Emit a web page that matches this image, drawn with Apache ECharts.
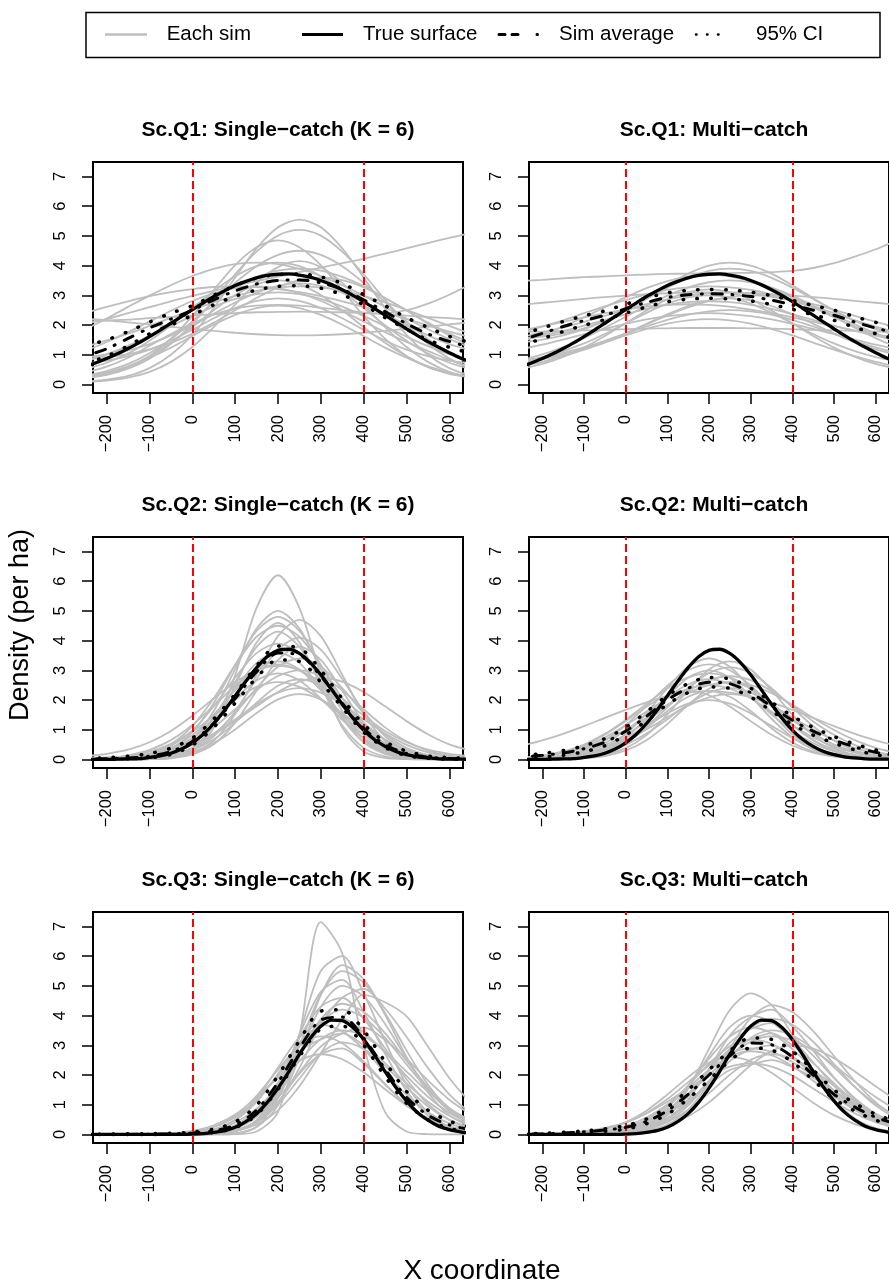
<!DOCTYPE html>
<html>
<head>
<meta charset="utf-8">
<script src="https://cdn.jsdelivr.net/npm/echarts@6.0.0/dist/echarts.min.js"></script>
<style>
  html, body { margin: 0; padding: 0; background: #fff; overflow: hidden; }
  #chart { width: 889px; height: 1287px; }
</style>
</head>
<body>
<div id="chart"></div>
<script>
// Sample positions (X coordinate) for simulated curves, averages and CI bounds
const xs = [-250, -200, -150, -100, -50, 0, 50, 100, 150, 200, 250, 300, 350, 400, 450, 500, 550, 600, 650];
// Finer sample positions for the true surfaces
const xsFine = [-250, -225, -200, -175, -150, -125, -100, -75, -50, -25, 0, 25, 50, 75, 100, 125, 150, 175, 200,
  225, 250, 275, 300, 325, 350, 375, 400, 425, 450, 475, 500, 525, 550, 575, 600, 625, 650];

const xTicks = [-200, -100, 0, 100, 200, 300, 400, 500, 600];
const yTicks = [0, 1, 2, 3, 4, 5, 6, 7];
const refLines = [0, 400];

const panelTitles = [
  'Sc.Q1: Single\u2212catch (K = 6)', 'Sc.Q1: Multi\u2212catch',
  'Sc.Q2: Single\u2212catch (K = 6)', 'Sc.Q2: Multi\u2212catch',
  'Sc.Q3: Single\u2212catch (K = 6)', 'Sc.Q3: Multi\u2212catch'
];
const legendLabels = ['Each sim', 'True surface', 'Sim average', '95% CI'];

// True density surfaces (on xsFine)
const q1True = [0.6, 0.73, 0.87, 1.03, 1.21, 1.4, 1.61, 1.83, 2.06, 2.29, 2.52, 2.74, 2.96, 3.15, 3.33, 3.47, 3.59, 3.67, 3.71,
  3.72, 3.68, 3.61, 3.5, 3.36, 3.19, 3.0, 2.79, 2.56, 2.33, 2.1, 1.87, 1.65, 1.44, 1.25, 1.07, 0.9, 0.75];
const q2True = [0, 0, 0, 0.01, 0.02, 0.03, 0.07, 0.12, 0.21, 0.35, 0.56, 0.84, 1.21, 1.65, 2.14, 2.63, 3.09, 3.46, 3.67,
  3.71, 3.57, 3.27, 2.85, 2.36, 1.86, 1.39, 0.99, 0.67, 0.44, 0.27, 0.16, 0.09, 0.05, 0.02, 0.01, 0.01, 0];
const q3True = [0, 0, 0, 0, 0, 0, 0, 0, 0, 0, 0.01, 0.03, 0.07, 0.13, 0.24, 0.43, 0.7, 1.08, 1.56,
  2.11, 2.7, 3.23, 3.64, 3.85, 3.83, 3.6, 3.2, 2.68, 2.12, 1.59, 1.13, 0.75, 0.48, 0.28, 0.16, 0.09, 0.04];

// Q1 single-catch
const q1SingleSims = [
  [0.09, 0.16, 0.29, 0.55, 1.0, 1.67, 2.57, 3.6, 4.58, 5.29, 5.55, 5.29, 4.58, 3.6, 2.57, 1.67, 1.0, 0.55, 0.29],
  [0.21, 0.32, 0.53, 0.87, 1.37, 2.04, 2.85, 3.71, 4.47, 5.01, 5.2, 5.01, 4.47, 3.71, 2.85, 2.04, 1.37, 0.87, 0.53],
  [0.24, 0.36, 0.58, 0.96, 1.54, 2.3, 3.18, 4.02, 4.62, 4.85, 4.62, 4.02, 3.18, 2.3, 1.54, 0.96, 0.58, 0.36, 0.24],
  [0.29, 0.45, 0.69, 1.05, 1.53, 2.12, 2.77, 3.42, 3.98, 4.36, 4.5, 4.36, 3.98, 3.42, 2.77, 2.12, 1.53, 1.05, 0.69],
  [1.86, 2.22, 2.61, 2.99, 3.34, 3.65, 3.89, 4.05, 4.1, 4.05, 3.89, 3.65, 3.34, 2.99, 2.61, 2.22, 1.86, 1.53, 1.25],
  [0.51, 0.73, 1.04, 1.47, 1.99, 2.57, 3.14, 3.64, 3.98, 4.1, 3.98, 3.64, 3.14, 2.57, 1.99, 1.47, 1.04, 0.73, 0.51],
  [0.79, 1.01, 1.3, 1.65, 2.05, 2.49, 2.91, 3.31, 3.62, 3.83, 3.9, 3.83, 3.62, 3.31, 2.91, 2.49, 2.05, 1.65, 1.3],
  [0.25, 0.39, 0.61, 0.95, 1.4, 1.93, 2.5, 3.01, 3.37, 3.5, 3.37, 3.01, 2.5, 1.93, 1.4, 0.95, 0.61, 0.39, 0.25],
  [1.27, 1.48, 1.71, 1.97, 2.24, 2.51, 2.76, 2.98, 3.15, 3.26, 3.3, 3.26, 3.15, 2.98, 2.76, 2.51, 2.24, 1.97, 1.71],
  [0.77, 1.01, 1.29, 1.61, 1.96, 2.31, 2.62, 2.88, 3.04, 3.1, 3.04, 2.88, 2.62, 2.31, 1.96, 1.61, 1.29, 1.01, 0.77],
  [0.91, 1.01, 1.15, 1.36, 1.65, 1.99, 2.38, 2.76, 3.09, 3.32, 3.4, 3.32, 3.09, 2.76, 2.38, 1.99, 1.65, 1.36, 1.15],
  [2.21, 2.16, 2.09, 2.02, 1.94, 1.87, 1.8, 1.74, 1.69, 1.66, 1.65, 1.66, 1.69, 1.74, 1.8, 1.87, 1.94, 2.02, 2.09],
  [2.11, 2.15, 2.18, 2.23, 2.27, 2.32, 2.36, 2.4, 2.43, 2.44, 2.45, 2.44, 2.43, 2.4, 2.36, 2.32, 2.27, 2.23, 2.18],
  [2.05, 2.2, 2.4, 2.6, 2.8, 2.98, 3.15, 3.32, 3.48, 3.63, 3.78, 3.93, 4.08, 4.23, 4.4, 4.58, 4.76, 4.93, 5.1],
  [0.4, 0.6, 0.9, 1.3, 1.7, 2.05, 2.35, 2.55, 2.65, 2.68, 2.65, 2.58, 2.5, 2.42, 2.4, 2.5, 2.72, 3.02, 3.38],
  [0.86, 0.92, 1.02, 1.18, 1.4, 1.71, 2.08, 2.5, 2.91, 3.27, 3.51, 3.6, 3.51, 3.27, 2.91, 2.5, 2.08, 1.71, 1.4],
  [0.26, 0.4, 0.61, 0.9, 1.24, 1.63, 2.01, 2.34, 2.57, 2.65, 2.57, 2.34, 2.01, 1.63, 1.24, 0.9, 0.61, 0.4, 0.26],
  [0.08, 0.13, 0.23, 0.42, 0.76, 1.26, 1.93, 2.69, 3.42, 3.95, 4.15, 3.95, 3.42, 2.69, 1.93, 1.26, 0.76, 0.42, 0.23],
  [1.13, 1.43, 1.76, 2.12, 2.48, 2.81, 3.07, 3.24, 3.3, 3.24, 3.07, 2.81, 2.48, 2.12, 1.76, 1.43, 1.13, 0.83, 0.59],
  [0.7, 0.8, 0.95, 1.17, 1.48, 1.84, 2.23, 2.57, 2.81, 2.9, 2.81, 2.57, 2.23, 1.84, 1.48, 1.17, 0.95, 0.8, 0.7],
  [2.41, 2.61, 2.8, 2.97, 3.11, 3.21, 3.28, 3.3, 3.28, 3.21, 3.11, 2.97, 2.8, 2.61, 2.41, 2.2, 1.99, 1.78, 1.59]
];
const q1SingleAvg = [0.95, 1.2, 1.55, 1.9, 2.2, 2.5, 2.85, 3.15, 3.38, 3.5, 3.52, 3.42, 3.2, 2.85, 2.45, 2.05, 1.7, 1.45, 1.25];
const q1SingleHi = [1.3, 1.5, 1.78, 2.1, 2.4, 2.65, 3.0, 3.33, 3.58, 3.7, 3.72, 3.62, 3.4, 3.02, 2.65, 2.25, 1.92, 1.62, 1.4];
const q1SingleLo = [0.7, 0.95, 1.3, 1.7, 2.0, 2.33, 2.68, 2.97, 3.18, 3.3, 3.32, 3.24, 3.02, 2.68, 2.25, 1.86, 1.5, 1.25, 1.05];

// Q1 multi-catch
const q1MultiSims = [
  [3.48, 3.52, 3.57, 3.61, 3.64, 3.67, 3.7, 3.72, 3.73, 3.74, 3.75, 3.76, 3.78, 3.82, 3.92, 4.08, 4.3, 4.55, 4.85],
  [1.55, 1.61, 1.72, 1.89, 2.15, 2.49, 2.9, 3.34, 3.73, 4.0, 4.1, 4.0, 3.73, 3.34, 2.9, 2.49, 2.15, 1.89, 1.72],
  [1.41, 1.51, 1.65, 1.86, 2.15, 2.49, 2.88, 3.26, 3.59, 3.82, 3.9, 3.82, 3.59, 3.26, 2.88, 2.49, 2.15, 1.86, 1.65],
  [1.45, 1.68, 1.95, 2.26, 2.6, 2.93, 3.24, 3.48, 3.64, 3.7, 3.64, 3.48, 3.24, 2.93, 2.6, 2.26, 1.95, 1.68, 1.45],
  [0.82, 1.01, 1.26, 1.56, 1.91, 2.28, 2.65, 2.99, 3.26, 3.44, 3.5, 3.44, 3.26, 2.99, 2.65, 2.28, 1.91, 1.56, 1.26],
  [1.75, 1.95, 2.16, 2.4, 2.63, 2.84, 3.03, 3.18, 3.27, 3.3, 3.27, 3.18, 3.03, 2.84, 2.63, 2.4, 2.16, 1.95, 1.75],
  [1.6, 1.75, 1.92, 2.11, 2.31, 2.51, 2.7, 2.86, 2.99, 3.07, 3.1, 3.07, 2.99, 2.86, 2.7, 2.51, 2.31, 2.11, 1.92],
  [0.79, 0.92, 1.12, 1.38, 1.7, 2.06, 2.41, 2.72, 2.93, 3.0, 2.93, 2.72, 2.41, 2.06, 1.7, 1.38, 1.12, 0.92, 0.79],
  [0.8, 0.88, 1.0, 1.18, 1.42, 1.71, 2.04, 2.36, 2.64, 2.83, 2.9, 2.83, 2.64, 2.36, 2.04, 1.71, 1.42, 1.18, 1.0],
  [1.52, 1.64, 1.8, 1.98, 2.17, 2.36, 2.54, 2.68, 2.77, 2.8, 2.77, 2.68, 2.54, 2.36, 2.17, 1.98, 1.8, 1.64, 1.52],
  [1.77, 1.78, 1.8, 1.82, 1.84, 1.86, 1.88, 1.89, 1.9, 1.9, 1.9, 1.89, 1.88, 1.86, 1.84, 1.82, 1.8, 1.78, 1.77],
  [0.6, 0.76, 0.95, 1.17, 1.41, 1.65, 1.87, 2.05, 2.16, 2.2, 2.16, 2.05, 1.87, 1.65, 1.41, 1.17, 0.95, 0.76, 0.6],
  [0.77, 0.9, 1.06, 1.25, 1.47, 1.71, 1.95, 2.17, 2.35, 2.46, 2.5, 2.46, 2.35, 2.17, 1.95, 1.71, 1.47, 1.25, 1.06],
  [1.82, 1.96, 2.11, 2.26, 2.4, 2.52, 2.62, 2.68, 2.7, 2.68, 2.62, 2.52, 2.4, 2.26, 2.11, 1.96, 1.82, 1.69, 1.57],
  [2.68, 2.75, 2.81, 2.88, 2.94, 2.99, 3.04, 3.07, 3.09, 3.1, 3.09, 3.07, 3.04, 2.99, 2.94, 2.88, 2.81, 2.75, 2.68],
  [0.72, 0.84, 1.0, 1.2, 1.44, 1.72, 2.02, 2.32, 2.59, 2.81, 2.95, 3.0, 2.95, 2.81, 2.59, 2.32, 2.02, 1.72, 1.44],
  [0.53, 0.69, 0.93, 1.24, 1.63, 2.06, 2.49, 2.86, 3.11, 3.2, 3.11, 2.86, 2.49, 2.06, 1.63, 1.24, 0.93, 0.69, 0.53],
  [1.19, 1.34, 1.51, 1.69, 1.87, 2.04, 2.19, 2.3, 2.37, 2.4, 2.37, 2.3, 2.19, 2.04, 1.87, 1.69, 1.51, 1.34, 1.19]
];
const q1MultiAvg = [1.5, 1.72, 1.95, 2.15, 2.33, 2.55, 2.76, 2.93, 3.02, 3.05, 3.03, 2.96, 2.84, 2.68, 2.5, 2.33, 2.1, 1.9, 1.72];
const q1MultiHi = [1.7, 1.9, 2.12, 2.31, 2.48, 2.7, 2.91, 3.08, 3.17, 3.2, 3.18, 3.11, 2.99, 2.83, 2.66, 2.5, 2.28, 2.09, 1.92];
const q1MultiLo = [1.32, 1.54, 1.78, 1.99, 2.18, 2.4, 2.61, 2.78, 2.87, 2.9, 2.88, 2.81, 2.69, 2.53, 2.34, 2.16, 1.92, 1.71, 1.52];

// Q2 single-catch
const q2SingleSims = [
  [0, 0, 0, 0.01, 0.05, 0.27, 1.07, 2.84, 5.1, 6.2, 5.1, 2.84, 1.07, 0.27, 0.05, 0.01, 0, 0, 0],
  [0, 0, 0.01, 0.06, 0.22, 0.68, 1.63, 3.04, 4.41, 5.0, 4.41, 3.04, 1.63, 0.68, 0.22, 0.06, 0.01, 0, 0],
  [0, 0.01, 0.03, 0.12, 0.36, 0.92, 1.9, 3.18, 4.33, 4.8, 4.33, 3.18, 1.9, 0.92, 0.36, 0.12, 0.03, 0.01, 0],
  [0, 0, 0, 0.01, 0.05, 0.21, 0.63, 1.53, 2.85, 4.15, 4.7, 4.15, 2.85, 1.53, 0.63, 0.21, 0.05, 0.01, 0],
  [0, 0.02, 0.06, 0.2, 0.51, 1.12, 2.06, 3.18, 4.13, 4.5, 4.13, 3.18, 2.06, 1.12, 0.51, 0.2, 0.06, 0.02, 0],
  [0, 0, 0.01, 0.05, 0.19, 0.58, 1.4, 2.61, 3.79, 4.3, 3.79, 2.61, 1.4, 0.58, 0.19, 0.05, 0.01, 0, 0],
  [0, 0, 0.01, 0.03, 0.1, 0.31, 0.78, 1.62, 2.71, 3.7, 4.1, 3.7, 2.71, 1.62, 0.78, 0.31, 0.1, 0.03, 0.01],
  [0, 0.02, 0.06, 0.17, 0.45, 0.97, 1.79, 2.76, 3.58, 3.9, 3.58, 2.76, 1.79, 0.97, 0.45, 0.17, 0.06, 0.02, 0],
  [0, 0.01, 0.02, 0.09, 0.27, 0.69, 1.42, 2.38, 3.25, 3.6, 3.25, 2.38, 1.42, 0.69, 0.27, 0.09, 0.02, 0.01, 0],
  [0, 0, 0.01, 0.05, 0.15, 0.39, 0.85, 1.56, 2.4, 3.12, 3.4, 3.12, 2.4, 1.56, 0.85, 0.39, 0.15, 0.05, 0.01],
  [0.02, 0.05, 0.14, 0.32, 0.65, 1.16, 1.8, 2.48, 3.0, 3.2, 3.0, 2.48, 1.8, 1.16, 0.65, 0.32, 0.14, 0.05, 0.02],
  [0.01, 0.02, 0.05, 0.13, 0.3, 0.61, 1.08, 1.69, 2.33, 2.81, 3.0, 2.81, 2.33, 1.69, 1.08, 0.61, 0.3, 0.13, 0.05],
  [0, 0.01, 0.04, 0.13, 0.33, 0.72, 1.33, 2.05, 2.66, 2.9, 2.66, 2.05, 1.33, 0.72, 0.33, 0.13, 0.04, 0.01, 0],
  [0, 0, 0.01, 0.04, 0.12, 0.31, 0.67, 1.24, 1.91, 2.48, 2.7, 2.48, 1.91, 1.24, 0.67, 0.31, 0.12, 0.04, 0.01],
  [0.01, 0.04, 0.11, 0.26, 0.53, 0.94, 1.46, 2.02, 2.44, 2.6, 2.44, 2.02, 1.46, 0.94, 0.53, 0.26, 0.11, 0.04, 0.01],
  [0, 0.01, 0.04, 0.11, 0.24, 0.49, 0.87, 1.35, 1.86, 2.25, 2.4, 2.25, 1.86, 1.35, 0.87, 0.49, 0.24, 0.11, 0.04],
  [0.06, 0.07, 0.1, 0.17, 0.3, 0.51, 0.85, 1.29, 1.79, 2.27, 2.62, 2.75, 2.62, 2.27, 1.79, 1.29, 0.85, 0.51, 0.3],
  [0.11, 0.19, 0.33, 0.58, 0.96, 1.47, 2.05, 2.6, 3.0, 3.15, 3.0, 2.6, 2.05, 1.47, 0.96, 0.58, 0.33, 0.19, 0.11],
  [0, 0, 0, 0.01, 0.04, 0.17, 0.51, 1.24, 2.31, 3.35, 3.8, 3.35, 2.31, 1.24, 0.51, 0.17, 0.04, 0.01, 0],
  [0, 0, 0, 0.02, 0.1, 0.39, 1.15, 2.48, 3.94, 4.6, 3.94, 2.48, 1.15, 0.39, 0.1, 0.02, 0, 0, 0],
  [0, 0, 0.01, 0.03, 0.1, 0.25, 0.55, 1.01, 1.56, 2.02, 2.2, 2.02, 1.56, 1.01, 0.55, 0.25, 0.1, 0.03, 0.01],
  [0, 0.01, 0.05, 0.15, 0.38, 0.82, 1.51, 2.33, 3.03, 3.3, 3.03, 2.33, 1.51, 0.82, 0.38, 0.15, 0.05, 0.01, 0]
];
const q2SingleAvg = [0.01, 0.02, 0.05, 0.11, 0.27, 0.6, 1.22, 2.05, 2.95, 3.58, 3.52, 2.8, 1.9, 1.05, 0.5, 0.2, 0.08, 0.03, 0.01];
const q2SingleHi = [0.03, 0.06, 0.11, 0.2, 0.38, 0.72, 1.36, 2.2, 3.15, 3.82, 3.75, 3.0, 2.05, 1.18, 0.6, 0.28, 0.12, 0.06, 0.03];
const q2SingleLo = [0, 0.01, 0.02, 0.05, 0.17, 0.48, 1.08, 1.9, 2.75, 3.35, 3.3, 2.6, 1.75, 0.92, 0.4, 0.13, 0.04, 0.01, 0];

// Q2 multi-catch
const q2MultiSims = [
  [0.46, 0.64, 0.86, 1.12, 1.4, 1.67, 1.92, 2.12, 2.25, 2.3, 2.25, 2.12, 1.92, 1.67, 1.4, 1.12, 0.86, 0.64, 0.46],
  [0, 0.01, 0.05, 0.15, 0.39, 0.85, 1.56, 2.4, 3.12, 3.4, 3.12, 2.4, 1.56, 0.85, 0.39, 0.15, 0.05, 0.01, 0],
  [0, 0, 0.01, 0.05, 0.15, 0.38, 0.82, 1.51, 2.33, 3.03, 3.3, 3.03, 2.33, 1.51, 0.82, 0.38, 0.15, 0.05, 0.01],
  [0.02, 0.05, 0.14, 0.32, 0.65, 1.16, 1.8, 2.48, 3.0, 3.2, 3.0, 2.48, 1.8, 1.16, 0.65, 0.32, 0.14, 0.05, 0.02],
  [0.01, 0.02, 0.05, 0.14, 0.31, 0.63, 1.12, 1.75, 2.4, 2.91, 3.1, 2.91, 2.4, 1.75, 1.12, 0.63, 0.31, 0.14, 0.05],
  [0, 0.01, 0.04, 0.13, 0.34, 0.75, 1.37, 2.12, 2.75, 3.0, 2.75, 2.12, 1.37, 0.75, 0.34, 0.13, 0.04, 0.01, 0],
  [0.06, 0.13, 0.27, 0.5, 0.86, 1.33, 1.87, 2.39, 2.76, 2.9, 2.76, 2.39, 1.87, 1.33, 0.86, 0.5, 0.27, 0.13, 0.06],
  [0.02, 0.05, 0.12, 0.26, 0.48, 0.83, 1.28, 1.81, 2.3, 2.67, 2.8, 2.67, 2.3, 1.81, 1.28, 0.83, 0.48, 0.26, 0.12],
  [0.02, 0.05, 0.12, 0.27, 0.55, 0.97, 1.52, 2.09, 2.53, 2.7, 2.53, 2.09, 1.52, 0.97, 0.55, 0.27, 0.12, 0.05, 0.02],
  [0, 0, 0.01, 0.04, 0.11, 0.3, 0.65, 1.19, 1.84, 2.38, 2.6, 2.38, 1.84, 1.19, 0.65, 0.3, 0.11, 0.04, 0.01],
  [0.05, 0.11, 0.23, 0.43, 0.74, 1.15, 1.61, 2.06, 2.38, 2.5, 2.38, 2.06, 1.61, 1.15, 0.74, 0.43, 0.23, 0.11, 0.05],
  [0, 0.01, 0.04, 0.11, 0.24, 0.49, 0.87, 1.35, 1.86, 2.25, 2.4, 2.25, 1.86, 1.35, 0.87, 0.49, 0.24, 0.11, 0.04],
  [0, 0.01, 0.03, 0.1, 0.26, 0.57, 1.05, 1.63, 2.11, 2.3, 2.11, 1.63, 1.05, 0.57, 0.26, 0.1, 0.03, 0.01, 0],
  [0.02, 0.04, 0.1, 0.2, 0.38, 0.65, 1.01, 1.42, 1.81, 2.09, 2.2, 2.09, 1.81, 1.42, 1.01, 0.65, 0.38, 0.2, 0.1],
  [0.01, 0.03, 0.09, 0.2, 0.41, 0.72, 1.13, 1.55, 1.88, 2.0, 1.88, 1.55, 1.13, 0.72, 0.41, 0.2, 0.09, 0.03, 0.01],
  [0.05, 0.11, 0.22, 0.39, 0.65, 0.99, 1.4, 1.84, 2.23, 2.5, 2.6, 2.5, 2.23, 1.84, 1.4, 0.99, 0.65, 0.39, 0.22],
  [0.04, 0.1, 0.23, 0.47, 0.83, 1.29, 1.78, 2.16, 2.3, 2.16, 1.78, 1.29, 0.83, 0.47, 0.23, 0.1, 0.04, 0.01, 0]
];
const q2MultiAvg = [0.08, 0.14, 0.22, 0.36, 0.58, 0.95, 1.45, 2.0, 2.4, 2.6, 2.55, 2.25, 1.78, 1.32, 0.95, 0.66, 0.42, 0.24, 0.13];
const q2MultiHi = [0.12, 0.2, 0.3, 0.46, 0.7, 1.08, 1.6, 2.15, 2.55, 2.76, 2.71, 2.4, 1.93, 1.46, 1.08, 0.77, 0.52, 0.32, 0.19];
const q2MultiLo = [0.04, 0.08, 0.14, 0.26, 0.46, 0.82, 1.3, 1.85, 2.25, 2.44, 2.39, 2.1, 1.63, 1.18, 0.82, 0.55, 0.32, 0.16, 0.07];

// Q3 single-catch
const q3SingleSims = [
  [0, 0, 0, 0, 0, 0, 0, 0.01, 0.1, 0.75, 3.3, 7.15, 6.1, 3.0, 0.75, 0.1, 0.01, 0, 0],
  [0, 0, 0, 0, 0, 0, 0, 0.03, 0.26, 1.22, 3.38, 5.5, 6.0, 4.76, 3.14, 1.69, 0.74, 0.26, 0.08],
  [0, 0, 0, 0, 0, 0, 0.01, 0.04, 0.25, 0.98, 2.61, 4.69, 5.7, 5.23, 4.03, 2.61, 1.42, 0.65, 0.25],
  [0, 0, 0, 0, 0, 0, 0.02, 0.12, 0.47, 1.37, 2.97, 4.71, 5.5, 5.11, 4.09, 2.83, 1.68, 0.86, 0.38],
  [0, 0, 0, 0, 0, 0, 0.01, 0.1, 0.48, 1.53, 3.35, 4.8, 5.2, 4.12, 2.72, 1.47, 0.64, 0.23, 0.07],
  [0, 0, 0, 0, 0, 0, 0.02, 0.11, 0.43, 1.25, 2.7, 4.29, 5.0, 4.65, 3.72, 2.57, 1.53, 0.79, 0.35],
  [0, 0, 0, 0, 0, 0, 0.02, 0.11, 0.39, 1.06, 2.24, 3.7, 4.6, 4.9, 4.24, 3.29, 2.24, 1.35, 0.71],
  [0, 0, 0, 0, 0, 0.01, 0.04, 0.2, 0.69, 1.75, 3.25, 4.3, 4.6, 3.9, 2.9, 1.86, 1.03, 0.49, 0.2],
  [0, 0, 0, 0, 0, 0.01, 0.05, 0.19, 0.59, 1.43, 2.67, 3.88, 4.4, 4.13, 3.41, 2.48, 1.59, 0.89, 0.44],
  [0, 0, 0, 0, 0, 0.01, 0.04, 0.12, 0.34, 0.81, 1.62, 2.73, 3.87, 4.7, 4.45, 3.98, 2.96, 1.9, 1.05],
  [0, 0, 0, 0, 0.01, 0.03, 0.1, 0.32, 0.8, 1.66, 2.78, 3.79, 4.2, 3.94, 3.26, 2.36, 1.52, 0.85, 0.42],
  [0, 0, 0, 0, 0.01, 0.05, 0.17, 0.48, 1.1, 2.04, 3.09, 3.7, 3.9, 3.44, 2.76, 1.97, 1.27, 0.73, 0.37],
  [0, 0, 0, 0, 0.01, 0.04, 0.16, 0.5, 1.2, 2.25, 3.26, 3.7, 3.47, 2.87, 2.08, 1.34, 0.75, 0.37, 0.16],
  [0, 0, 0, 0, 0.01, 0.03, 0.09, 0.26, 0.62, 1.24, 2.09, 2.96, 3.4, 3.6, 3.18, 2.55, 1.82, 1.17, 0.67],
  [0, 0, 0, 0.01, 0.03, 0.09, 0.25, 0.58, 1.17, 1.98, 2.8, 3.2, 3.4, 3.0, 2.4, 1.72, 1.11, 0.63, 0.33],
  [0, 0, 0, 0, 0.02, 0.08, 0.25, 0.63, 1.3, 2.18, 2.98, 3.3, 3.07, 2.46, 1.7, 1.01, 0.52, 0.23, 0.09],
  [0, 0, 0, 0, 0, 0.01, 0.03, 0.14, 0.42, 1.01, 1.88, 2.73, 3.1, 2.88, 2.31, 1.59, 0.95, 0.49, 0.22],
  [0, 0, 0, 0, 0, 0, 0.03, 0.13, 0.44, 1.1, 2.05, 2.7, 2.9, 2.39, 1.68, 1.0, 0.5, 0.21, 0.07],
  [0, 0, 0, 0, 0.01, 0.05, 0.15, 0.4, 0.87, 1.6, 2.47, 3.21, 3.5, 3.31, 2.8, 2.12, 1.44, 0.87, 0.47],
  [0, 0, 0, 0.01, 0.04, 0.12, 0.31, 0.67, 1.24, 1.91, 2.48, 2.7, 2.53, 2.09, 1.52, 0.97, 0.55, 0.27, 0.12]
];
const q3SingleAvg = [0, 0, 0, 0.01, 0.02, 0.05, 0.12, 0.32, 0.82, 1.75, 2.9, 3.85, 3.95, 3.25, 2.2, 1.25, 0.65, 0.32, 0.16];
const q3SingleHi = [0.01, 0.01, 0.02, 0.03, 0.04, 0.08, 0.18, 0.42, 0.98, 1.98, 3.15, 4.15, 4.2, 3.5, 2.45, 1.45, 0.82, 0.45, 0.25];
const q3SingleLo = [0, 0, 0, 0, 0.01, 0.03, 0.07, 0.22, 0.66, 1.52, 2.62, 3.55, 3.65, 3.0, 1.95, 1.05, 0.5, 0.2, 0.08];

// Q3 multi-catch
const q3MultiSims = [
  [0, 0, 0, 0, 0.01, 0.05, 0.21, 0.64, 1.54, 2.88, 4.19, 4.75, 4.36, 3.36, 2.18, 1.18, 0.54, 0.21, 0.07],
  [0, 0, 0, 0, 0.01, 0.03, 0.11, 0.33, 0.83, 1.72, 2.88, 3.92, 4.35, 4.12, 3.48, 2.64, 1.79, 1.08, 0.59],
  [0, 0, 0, 0, 0.01, 0.05, 0.18, 0.52, 1.18, 2.2, 3.33, 3.95, 4.2, 3.64, 2.82, 1.92, 1.16, 0.61, 0.28],
  [0, 0, 0, 0.01, 0.03, 0.1, 0.3, 0.76, 1.58, 2.65, 3.61, 4.0, 3.78, 3.2, 2.43, 1.64, 1.0, 0.54, 0.26],
  [0, 0, 0, 0, 0.02, 0.06, 0.17, 0.44, 0.97, 1.79, 2.76, 3.58, 3.9, 3.69, 3.12, 2.37, 1.6, 0.97, 0.53],
  [0, 0, 0, 0.01, 0.03, 0.1, 0.27, 0.65, 1.29, 2.18, 3.09, 3.55, 3.75, 3.31, 2.65, 1.9, 1.22, 0.7, 0.36],
  [0, 0, 0, 0.01, 0.05, 0.16, 0.41, 0.9, 1.65, 2.55, 3.3, 3.6, 3.41, 2.88, 2.19, 1.48, 0.9, 0.49, 0.24],
  [0, 0, 0, 0.01, 0.03, 0.09, 0.24, 0.55, 1.07, 1.8, 2.6, 3.25, 3.5, 3.33, 2.88, 2.26, 1.6, 1.03, 0.6],
  [0, 0, 0, 0.02, 0.05, 0.15, 0.36, 0.76, 1.37, 2.14, 2.88, 3.2, 3.4, 3.0, 2.4, 1.72, 1.11, 0.63, 0.33],
  [0, 0, 0.01, 0.03, 0.09, 0.22, 0.5, 0.98, 1.64, 2.38, 2.97, 3.2, 3.05, 2.63, 2.06, 1.47, 0.94, 0.55, 0.29],
  [0, 0, 0, 0.01, 0.02, 0.08, 0.22, 0.52, 1.04, 1.74, 2.47, 2.85, 3.0, 2.6, 2.01, 1.37, 0.83, 0.44, 0.2],
  [0, 0, 0.02, 0.05, 0.12, 0.28, 0.57, 1.01, 1.58, 2.17, 2.63, 2.8, 2.67, 2.3, 1.81, 1.28, 0.83, 0.48, 0.26],
  [0, 0, 0, 0.01, 0.02, 0.07, 0.19, 0.42, 0.83, 1.39, 2.01, 2.51, 2.7, 2.55, 2.16, 1.64, 1.11, 0.67, 0.36],
  [0, 0, 0.01, 0.03, 0.07, 0.17, 0.36, 0.69, 1.15, 1.68, 2.17, 2.35, 2.5, 2.27, 1.91, 1.47, 1.04, 0.68, 0.4],
  [0.01, 0.01, 0.03, 0.08, 0.19, 0.39, 0.72, 1.19, 1.76, 2.32, 2.74, 2.9, 2.78, 2.44, 1.97, 1.45, 0.98, 0.61, 0.35],
  [0, 0, 0.01, 0.04, 0.09, 0.22, 0.45, 0.82, 1.36, 2.0, 2.64, 3.12, 3.3, 3.17, 2.83, 2.33, 1.78, 1.26, 0.82],
  [0, 0, 0, 0.01, 0.02, 0.05, 0.13, 0.3, 0.61, 1.08, 1.69, 2.33, 2.81, 3.0, 2.89, 2.57, 2.12, 1.62, 1.14],
  [0, 0.01, 0.02, 0.07, 0.18, 0.41, 0.8, 1.34, 1.93, 2.42, 2.6, 2.46, 2.08, 1.58, 1.07, 0.65, 0.35, 0.17, 0.07],
  [0.01, 0.02, 0.05, 0.11, 0.22, 0.41, 0.71, 1.1, 1.55, 1.98, 2.28, 2.4, 2.28, 1.98, 1.55, 1.1, 0.71, 0.41, 0.22]
];
const q3MultiAvg = [0.01, 0.02, 0.05, 0.09, 0.15, 0.24, 0.44, 0.8, 1.35, 2.0, 2.65, 3.08, 3.02, 2.62, 2.0, 1.35, 0.92, 0.58, 0.35];
const q3MultiHi = [0.02, 0.04, 0.07, 0.12, 0.19, 0.3, 0.52, 0.92, 1.5, 2.17, 2.82, 3.25, 3.2, 2.8, 2.17, 1.5, 1.05, 0.68, 0.43];
const q3MultiLo = [0, 0.01, 0.03, 0.06, 0.11, 0.18, 0.36, 0.68, 1.2, 1.83, 2.48, 2.91, 2.84, 2.44, 1.83, 1.2, 0.79, 0.48, 0.27];

// ---- layout & styling ----
const FONT = '"Liberation Sans", Arial, Helvetica, sans-serif';
const SIM_GREY = '#BEBEBE';

const panels = [
  { sims: q1SingleSims, truth: q1True, avg: q1SingleAvg, hi: q1SingleHi, lo: q1SingleLo },
  { sims: q1MultiSims,  truth: q1True, avg: q1MultiAvg,  hi: q1MultiHi,  lo: q1MultiLo },
  { sims: q2SingleSims, truth: q2True, avg: q2SingleAvg, hi: q2SingleHi, lo: q2SingleLo },
  { sims: q2MultiSims,  truth: q2True, avg: q2MultiAvg,  hi: q2MultiHi,  lo: q2MultiLo },
  { sims: q3SingleSims, truth: q3True, avg: q3SingleAvg, hi: q3SingleHi, lo: q3SingleLo },
  { sims: q3MultiSims,  truth: q3True, avg: q3MultiAvg,  hi: q3MultiHi,  lo: q3MultiLo }
];

const colLeft = [93, 529];
const rowTop = [162, 537, 912];
const PW = 370, PH = 231;

const grids = [], xAxes = [], yAxes = [], series = [], graphics = [];
const pts = (xv, arr) => xv.map((x, i) => [x, arr[i]]);
const minusFmt = v => (v < 0 ? '\u2212' + Math.abs(v) : String(v));

panels.forEach((p, k) => {
  const left = colLeft[k % 2], top = rowTop[Math.floor(k / 2)];
  grids.push({ left: left, top: top, width: PW, height: PH, show: true,
    borderColor: '#000', borderWidth: 2, backgroundColor: 'transparent', containLabel: false });
  xAxes.push({
    type: 'value', gridIndex: k, min: -232, max: 632,
    axisLine: { show: false, onZero: false }, splitLine: { show: false },
    axisTick: { show: true, length: 11, lineStyle: { color: '#000', width: 1.5 }, customValues: xTicks },
    axisLabel: { customValues: xTicks, rotate: 90, margin: 22, fontSize: 16.5, color: '#000',
      fontFamily: FONT, formatter: minusFmt }
  });
  yAxes.push({
    type: 'value', gridIndex: k, min: -0.288, max: 7.488,
    axisLine: { show: false, onZero: false }, splitLine: { show: false },
    axisTick: { show: true, length: 11, lineStyle: { color: '#000', width: 1.5 }, customValues: yTicks },
    axisLabel: { customValues: yTicks, rotate: 90, margin: 24, fontSize: 16.5, color: '#000', fontFamily: FONT }
  });

  const base = { type: 'line', xAxisIndex: k, yAxisIndex: k, symbol: 'none', silent: true,
    smooth: 0.3, clip: true };
  p.sims.forEach(s => series.push(Object.assign({}, base, {
    data: pts(xs, s), z: 2, lineStyle: { color: SIM_GREY, width: 1.8 } })));
  series.push(Object.assign({}, base, {
    data: [], z: 3,
    markLine: { symbol: ['none', 'none'], silent: true, label: { show: false },
      lineStyle: { color: '#FF0000', width: 2, type: [8, 4] },
      data: refLines.map(v => ({ xAxis: v })) }
  }));
  series.push(Object.assign({}, base, { data: pts(xsFine, p.truth), z: 4,
    lineStyle: { color: '#000', width: 3.3 } }));
  series.push(Object.assign({}, base, { data: pts(xs, p.avg), z: 5,
    lineStyle: { color: '#000', width: 3, type: [1, 10, 10, 10], cap: 'round' } }));
  series.push(Object.assign({}, base, { data: pts(xs, p.hi), z: 5,
    lineStyle: { color: '#000', width: 3.5, type: [0.5, 13.5], cap: 'round' } }));
  series.push(Object.assign({}, base, { data: pts(xs, p.lo), z: 5,
    lineStyle: { color: '#000', width: 3.5, type: [0.5, 13.5], cap: 'round' } }));

  // panel heading
  graphics.push({ type: 'text', x: left + PW / 2, y: top - 32,
    style: { text: panelTitles[k], font: 'bold 21px ' + FONT, fill: '#000',
      align: 'center', verticalAlign: 'middle' } });
});

// outer axis titles
graphics.push({ type: 'text', x: 21, y: 625, rotation: Math.PI / 2,
  style: { text: 'Density (per ha)', font: '27px ' + FONT, fill: '#000', align: 'center', verticalAlign: 'middle' } });
graphics.push({ type: 'text', x: 482, y: 1271,
  style: { text: 'X coordinate', font: '28px ' + FONT, fill: '#000', align: 'center', verticalAlign: 'middle' } });

// legend box
const LY = 34.5;
graphics.push({ type: 'rect', shape: { x: 86, y: 12.5, width: 794, height: 45 },
  style: { fill: 'none', stroke: '#000', lineWidth: 1.5 } });
graphics.push({ type: 'line', shape: { x1: 105, y1: LY, x2: 147, y2: LY },
  style: { stroke: SIM_GREY, lineWidth: 2.5 } });
graphics.push({ type: 'line', shape: { x1: 302, y1: LY, x2: 343, y2: LY },
  style: { stroke: '#000', lineWidth: 3 } });
graphics.push({ type: 'line', shape: { x1: 499, y1: LY, x2: 541, y2: LY },
  style: { stroke: '#000', lineWidth: 3, lineDash: [6, 7, 6, 19, 0.5, 30], lineCap: 'round' } });
graphics.push({ type: 'line', shape: { x1: 696, y1: LY, x2: 729, y2: LY },
  style: { stroke: '#000', lineWidth: 2.5, lineDash: [0.5, 10.5], lineCap: 'round' } });
[[166.7, 0], [363, 1], [559, 2], [756, 3]].forEach(([x, i]) => {
  graphics.push({ type: 'text', x: x, y: LY,
    style: { text: legendLabels[i], font: '20.5px ' + FONT, fill: '#000', align: 'left', verticalAlign: 'middle' } });
});

const chart = echarts.init(document.getElementById('chart'), null, { renderer: 'canvas' });
chart.setOption({
  animation: false,
  backgroundColor: '#ffffff',
  textStyle: { fontFamily: FONT },
  grid: grids, xAxis: xAxes, yAxis: yAxes, series: series, graphic: graphics
});
</script>
</body>
</html>
